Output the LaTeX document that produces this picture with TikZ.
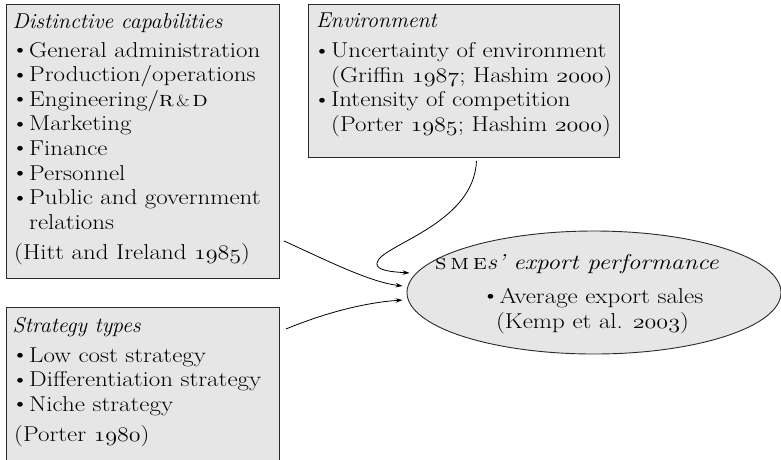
\documentclass[tikz,border=0pt]{standalone}
\usetikzlibrary{shapes.geometric,arrows.meta,calc}
\newcommand\osn[1]{{\fontencoding{OML}\fontfamily{cmm}\fontseries{m}\fontshape{it}\selectfont #1}}
\newcommand\bul{\makebox[15.5pt][l]{\raisebox{0.02em}{\textbullet}}}
\newcommand\sx[1]{\scalebox{1.16}[1]{#1}}
\newcommand\si[1]{\scalebox{1.02}[1]{\itshape #1}}
\newcommand\smallamp{{\fontsize{16}{18}\selectfont\&}}
\definecolor{boxfill}{HTML}{E6E6E6}
\definecolor{boxline}{HTML}{2A2A2A}
\begin{document}
\begin{tikzpicture}[x=1pt,y=-1pt,
  box/.style={draw=boxline, fill=boxfill, line width=0.9pt, inner sep=0pt, anchor=north west},
  txt/.style={anchor=base west, inner sep=0pt, font=\fontsize{21.5}{25}\selectfont},
  ctxt/.style={anchor=base, inner sep=0pt, font=\fontsize{21.5}{25}\selectfont},
  link/.style={draw=black, line width=0.8pt, -{Stealth[length=7pt,width=4.5pt]}}]
\useasboundingbox (0,0) rectangle (781,459);
% boxes
\node[box, minimum width=273pt, minimum height=274pt] (caps) at (6,4) {};
\node[box, minimum width=311pt, minimum height=153pt] (env) at (308,4) {};
\begin{scope}
\clip (0,0) rectangle (781,459);
\node[box, minimum width=273pt, minimum height=170pt] (strat) at (6,307) {};
\end{scope}
\node[ellipse, draw=boxline, fill=boxfill, line width=0.9pt, minimum width=374pt, minimum height=123pt, inner sep=0pt] (perf) at (594,292.5) {};
% box 1 text
\node[txt] (c0) at (12.5,28) {\si{Distinctive capabilities}};
\node[txt] (c1) at (11,57) {\sx{\bul General administration}};
\node[txt] (c2) at (11,81.6) {\sx{\bul Production/operations}};
\node[txt] (c3) at (11,106.2) {\sx{\bul Engineering/{\scshape r\kern0.1em}\smallamp{\scshape\kern0.1em d}}};
\node[txt] (c4) at (11,130.8) {\sx{\bul Marketing}};
\node[txt] (c5) at (11,155.4) {\sx{\bul Finance}};
\node[txt] (c6) at (11,180) {\sx{\bul Personnel}};
\node[txt] (c7) at (11,204.6) {\sx{\bul Public and government}};
\node[txt] (c8) at (29,229.2) {\sx{relations}};
\node[txt] (c9) at (14,259) {\sx{(Hitt and Ireland \osn{1985})}};
% box 2 text
\node[txt] (e0) at (316,27.5) {\si{Environment}};
\node[txt] (e1) at (313,57.5) {\sx{\bul Uncertainty of environment}};
\node[txt] (e2) at (331,82) {\sx{(Griffin \osn{1987}; Hashim \osn{2000})}};
\node[txt] (e3) at (313,106.5) {\sx{\bul Intensity of competition}};
\node[txt] (e4) at (331,131) {\sx{(Porter \osn{1985}; Hashim \osn{2000})}};
% box 3 text
\node[txt] (s0) at (12.5,332) {\si{Strategy types}};
\node[txt] (s1) at (11,362) {\sx{\bul Low cost strategy}};
\node[txt] (s2) at (11,386.5) {\sx{\bul Differentiation strategy}};
\node[txt] (s3) at (11,411) {\sx{\bul Niche strategy}};
\node[txt] (s4) at (14,441) {\sx{(Porter \osn{1980})}};
% ellipse text
\node[ctxt] (p0) at (577,269) {\scalebox{1.17}[1]{{\scshape s\kern0.15em m\kern0.15em e}\textit{s' export performance}}};
\node[ctxt] (p1) at (592.5,303) {\sx{\bul Average export sales}};
\node[ctxt] (p2) at (592.5,328) {\sx{(Kemp et al. \osn{2003})}};
% connectors
\draw[link] ([shift={(4,-38)}]caps.south east) .. controls (330,262) and (370,282) .. ([shift={(-4,-6.5)}]perf.west);
\draw[link] ([shift={(12.5,3)}]env.south) .. controls (474,225) and (380,245) .. (377,263) .. controls (375,271) and (395,272) .. ([shift={(3,-19.5)}]perf.west);
\draw[link] ([shift={(6,22)}]strat.north east) .. controls (320,315) and (360,303) .. ([shift={(-4,7.5)}]perf.west);
\end{tikzpicture}
\end{document}
